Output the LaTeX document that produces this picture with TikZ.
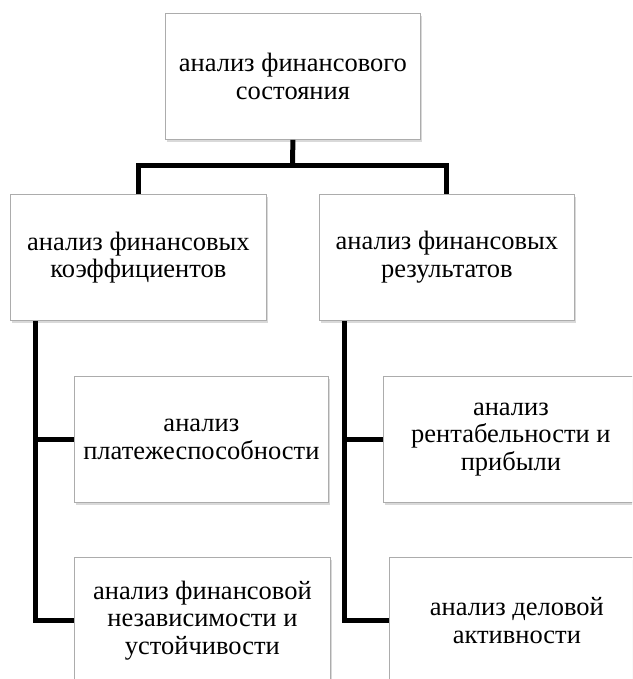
\documentclass[tikz,border=0pt]{standalone}
\usepackage{fontspec}
\setmainfont{Liberation Serif}
\usetikzlibrary{shadows}
\begin{document}
\begin{tikzpicture}[x=1pt,y=-1pt,
  box/.style={draw=gray!65, line width=0.8pt, fill=white, minimum width=255pt,
    minimum height=126pt, align=center, inner sep=0pt,
    font=\fontsize{26.5}{27.5}\selectfont,
    drop shadow={opacity=0.3, shadow xshift=2pt, shadow yshift=-3pt}},
  conn/.style={line width=5pt, line join=miter, black}]
\useasboundingbox (0,0) rectangle (632,679);
\clip (0,0) rectangle (632,679);
\node[box, anchor=north west] (top) at (165,13) {анализ финансового\\состояния};
\node[box, anchor=north west, minimum width=256pt] (k) at (10,194) {анализ финансовых\\коэффициентов};
\node[box, anchor=north west] (r) at (319,194) {анализ финансовых\\результатов};
\node[box, anchor=north west, minimum width=254pt] (p) at (74,376) {анализ\\платежеспособности};
\node[box, anchor=north west, minimum width=256pt] (f) at (74,557) {анализ финансовой\\независимости и\\устойчивости};
\node[box, anchor=north west] (rp) at (383,376) {анализ\\рентабельности и\\прибыли};
\node[box, anchor=north west] (d) at (389,557) {анализ деловой\\активности};
\coordinate (hub) at (292.5,166);
\draw[conn] (top.south) -- (hub);
\draw[conn] (k.north) -- (k.north |- hub) -- (r.north |- hub) -- (r.north);
\coordinate (kl) at ([xshift=25pt]k.south west);
\draw[conn] (kl) |- (f.west);
\draw[conn] (kl |- p.west) -- (p.west);
\coordinate (rl) at ([xshift=25pt]r.south west);
\draw[conn] (rl) |- (d.west);
\draw[conn] (rl |- rp.west) -- (rp.west);
\end{tikzpicture}
\end{document}
